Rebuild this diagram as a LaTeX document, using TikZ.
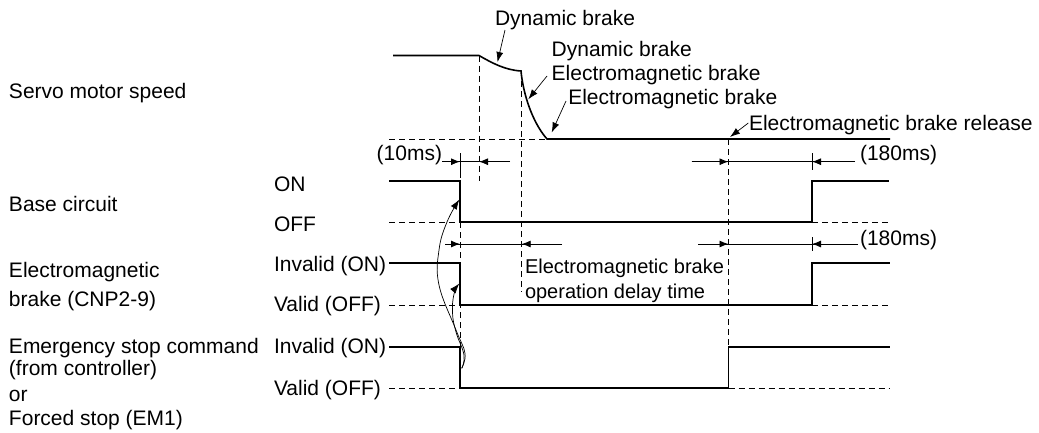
\documentclass[tikz,border=0pt]{standalone}
\usepackage{fontspec}
\setmainfont{Liberation Sans}
\usetikzlibrary{arrows.meta}
\begin{document}
\begin{tikzpicture}[x=1pt,y=-1pt,
  every node/.style={inner sep=0pt, outer sep=0pt, anchor=base west, font=\fontsize{21}{25}\selectfont},
  sig/.style={line width=1.6pt, line join=miter},
  dsh/.style={line width=0.9pt, dash pattern=on 6pt off 4pt},
  lead/.style={line width=0.7pt, -{Latex[length=10pt,width=7pt]}},
  dimline/.style={line width=0.9pt},
  dimtip/.style={line width=0.9pt, -{Latex[length=9pt,width=7pt]}},
  small/.style={font=\fontsize{20}{24}\selectfont}
]
\useasboundingbox (0,0) rectangle (1039,432);

% left labels
\node (lspeed) at (9,98.5) {Servo motor speed};
\node (lbase) at (9,211.7) {Base circuit};
\node (lbrkA) at (9,277.7) {Electromagnetic};
\node (lbrkB) at (9,306) {brake (CNP2-9)};
\node (lemA) at (9,353.3) {Emergency stop command};
\node (lemB) at (9,375) {(from controller)};
\node (lemC) at (9,401.7) {or};
\node (lemD) at (9,425) {Forced stop (EM1)};

% level labels
\node (on) at (274,191.7) {ON};
\node (off) at (274,231.7) {OFF};
\node (invA) at (274,271.7) {Invalid (ON)};
\node (valA) at (274,311.7) {Valid (OFF)};
\node (invB) at (274,353.3) {Invalid (ON)};
\node (valB) at (274,395.5) {Valid (OFF)};

% top labels
\node (dynA) at (495,25.5) {Dynamic brake};
\node (dynB) at (551.7,56) {Dynamic brake};
\node (emgA) at (551.7,80) {Electromagnetic brake};
\node (emgB) at (568.3,104) {Electromagnetic brake};
\node (rel) at (749,130) {Electromagnetic brake release};

% delay text
\node[small] (dlyA) at (525,273) {Electromagnetic brake};
\node[small] (dlyB) at (525,298.5) {operation delay time};

% time labels
\node[anchor=base east] (tten) at (442,160.5) {(10ms)};
\node (tA) at (860,160.5) {(180ms)};
\node (tB) at (860,245) {(180ms)};

% dashed guide lines
\draw[dsh] (389,139) -- (547,139);
\draw[dsh] (389,222) -- (460,222);
\draw[dsh] (812,222) -- (890,222);
\draw[dsh] (389,305) -- (460,305);
\draw[dsh] (812,305) -- (890,305);
\draw[dsh] (389,388) -- (460,388);
\draw[dsh] (728.5,388) -- (890,388);
\draw[dsh] (460,172) -- (460,388);
\draw[dsh] (479,55.5) -- (479,181);
\draw[dsh] (521.7,71) -- (521.7,292);
\draw[dsh] (728.5,139) -- (728.5,347);

% ticks
\draw[dimline] (460,153) -- (460,174);
\draw[dimline] (812,153) -- (812,170);
\draw[dimline] (812,237) -- (812,251);

% servo motor speed
\draw[sig] (393,55.5) -- (479,55.5) .. controls (492,63) and (505,70) .. (521,71)
  .. controls (523,93) and (532,122) .. (547,139) -- (890,139);

% base circuit
\draw[sig] (389,181) -- (460,181) -- (460,222) -- (812,222) -- (812,181) -- (889,181);
% electromagnetic brake
\draw[sig] (389,263) -- (460,263) -- (460,305) -- (812,305) -- (812,263) -- (890,263);
% emergency stop
\draw[sig] (389,347) -- (460,347) -- (460,388) -- (728.5,388) -- (728.5,347) -- (890,347);

% dimension arrows
\coordinate (d1a) at (442,161.7); \coordinate (d1b) at (460,161.7);
\coordinate (d1c) at (479,161.7); \coordinate (d1d) at (510,161.7);
\draw[dimline] (d1a) -- (d1d);
\draw[dimtip] (d1a) -- (d1b);
\draw[dimtip] (d1d) -- (d1c);

\coordinate (d2a) at (691.7,161.7); \coordinate (d2b) at (728.5,161.7);
\coordinate (d2c) at (812,161.7); \coordinate (d2d) at (855,161.7);
\draw[dimline] (d2a) -- (d2d);
\draw[dimtip] (d2a) -- (d2b);
\draw[dimtip] (d2d) -- (d2c);

\coordinate (d3a) at (445,244); \coordinate (d3b) at (460,244);
\coordinate (d3c) at (521.7,244); \coordinate (d3d) at (562,244);
\draw[dimline] (d3a) -- (d3d);
\draw[dimtip] (d3a) -- (d3b);
\draw[dimtip] (d3d) -- (d3c);

\coordinate (d4a) at (698,244); \coordinate (d4b) at (728.5,244);
\coordinate (d4c) at (812,244); \coordinate (d4d) at (858,244);
\draw[dimline] (d4a) -- (d4d);
\draw[dimtip] (d4a) -- (d4b);
\draw[dimtip] (d4d) -- (d4c);

% leader arrows
\coordinate (pA) at (505,30); \coordinate (qA) at (497.5,62);
\coordinate (pB) at (547,76); \coordinate (qB) at (528.3,99.3);
\coordinate (pC) at (566,101); \coordinate (qC) at (551.7,132.5);
\coordinate (pD) at (748.3,123); \coordinate (qD) at (730,137);
\draw[lead] (pA) -- (qA);
\draw[lead] (pB) -- (qB);
\draw[lead] (pC) -- (qC);
\draw[lead] (pD) -- (qD);

% causal curved arrows
\draw[lead] plot[smooth, tension=0.7] coordinates {(461.7,368.3) (465,353.3) (456,330) (439,285) (439,250) (447,222) (459.3,199.5)};
\draw[lead] plot[smooth, tension=0.7] coordinates {(461.7,368.3) (464,355) (456,332) (452.5,313) (454,294) (459.3,283.5)};
\end{tikzpicture}
\end{document}
